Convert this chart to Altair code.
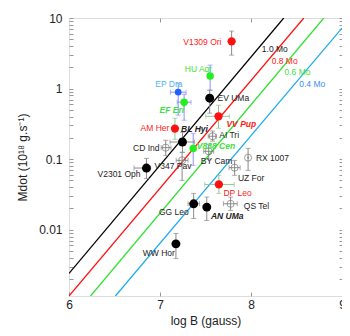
import altair as alt
import pandas as pd

# ---- star data (log B in gauss, Mdot in 1e18 g/s) ----
names = ["V1309 Ori", "HU Aqr", "EP Dra", "EF Eri", "EV UMa", "VV Pup", "BL Hyi",
         "AM Her", "CD Ind", "V838 Cen", "V347 Pav", "V2301 Oph", "AI Tri", "BY Cam",
         "RX 1007", "UZ For", "DP Leo", "QS Tel", "GG Leo", "AN UMa", "WW Hor"]
kinds = ["red", "green", "blue", "green", "black", "red", "black",
         "red", "open", "green", "open", "black", "open", "open",
         "opendot", "open", "red", "open", "black", "black", "black"]
logB = [7.787, 7.551, 7.20, 7.265, 7.546, 7.643, 7.247,
        7.164, 7.063, 7.365, 7.243, 6.851, 7.578, 7.535,
        7.968, 7.82, 7.647, 7.776, 7.37, 7.514, 7.175]
mdot = [4.67, 1.51, 0.889, 0.641, 0.731, 0.405, 0.175,
        0.271, 0.1455, 0.141, 0.0962, 0.0748, 0.211, 0.129,
        0.105, 0.0757, 0.0438, 0.0233, 0.0233, 0.0209, 0.0063]
logB_lo = [None, None, 7.114, 7.189, None, 7.503, 7.11,
           None, 7.013, None, 7.178, 6.714, 7.53, 7.48,
           None, 7.759, 7.492, 7.697, 7.308, None, None]
logB_hi = [None, None, 7.286, 7.341, None, 7.762, 7.38,
           None, 7.121, None, 7.308, 6.897, 7.62, 7.59,
           None, 7.881, 7.816, 7.849, 7.435, None, None]
mdot_lo = [2.98, 0.95, 0.42, 0.356, 0.448, 0.274, 0.125,
           0.191, 0.113, 0.0817, 0.05, 0.0533, 0.18, 0.10,
           0.0693, 0.059, 0.0327, 0.01875, 0.0144, 0.0135, 0.0039]
mdot_hi = [6.53, 2.15, 1.19, 0.832, 0.948, 0.58, 0.240,
           0.38, 0.185, 0.232, 0.125, 0.1025, 0.25, 0.16,
           0.142, 0.096, 0.0589, 0.029, 0.0327, 0.029, 0.00883]
err_group = ["gray", "blue", "blue", "blue", "gray", "green", "gray",
             "green", "gray", "blue", "gray", "gray", "gray", "gray",
             "gray", "gray", "green", "gray", "gray", "gray", "gray"]

# ---- star labels ----
lab_text = ["V1309 Ori", "HU Aqr", "EP Dra", "EF Eri", "EV UMa", "AM Her", "BL Hyi",
            "VV Pup", "AI Tri", "V838 Cen", "CD Ind", "V347 Pav", "V2301 Oph", "BY Cam",
            "RX 1007", "UZ For", "DP Leo", "QS Tel", "GG Leo", "AN UMa", "WW Hor",
            "1.0 Mo", "0.8 Mo", "0.6 Mo", "0.4 Mo"]
lab_x = [7.676, 7.272, 6.948, 6.995, 7.632, 7.103, 7.232,
         7.73, 7.651, 7.405, 6.995, 6.94, 6.786, 7.449,
         8.054, 7.856, 7.697, 7.921, 7.316, 7.56, 7.164,
         8.119, 8.227, 8.368, 8.53]
lab_y = [4.60, 1.89, 1.155, 0.493, 0.731, 0.274, 0.269,
         0.319, 0.218, 0.1535, 0.1455, 0.0798, 0.0608, 0.0948,
         0.1038, 0.054, 0.033, 0.0216, 0.01774, 0.01556, 0.0047,
         3.63, 2.45, 1.71, 1.155]
lab_align = ["right", "left", "left", "left", "left", "right", "left",
             "left", "left", "left", "right", "left", "right", "left",
             "left", "left", "left", "left", "right", "left", "right",
             "left", "left", "left", "left"]
lab_group = ["red", "green", "sky", "green", "black", "red", "black",
             "red", "black", "green", "black", "black", "black", "black",
             "black", "black", "red", "black", "black", "black", "black",
             "black", "red", "green", "blue"]
lab_emph = [False, False, False, True, False, False, True,
            True, False, True, False, False, False, False,
            False, False, False, False, False, True, False,
            False, False, False, False]

# ---- white-dwarf mass model lines (end points) ----
mass = ["1.0", "1.0", "0.8", "0.8", "0.6", "0.6", "0.4", "0.4"]
line_x = [6.0, 8.36, 6.0, 8.58, 6.237, 8.80, 6.51, 9.0]
line_y = [0.0024, 10.0, 0.00115, 10.0, 0.00115, 10.0, 0.00115, 7.2]

y_ticks = [0.002, 0.003, 0.004, 0.005, 0.006, 0.007, 0.008, 0.009,
           0.01, 0.02, 0.03, 0.04, 0.05, 0.06, 0.07, 0.08, 0.09,
           0.1, 0.2, 0.3, 0.4, 0.5, 0.6, 0.7, 0.8, 0.9,
           1, 2, 3, 4, 5, 6, 7, 8, 9, 10]
x_ticks = [6, 7, 8, 9]

stars = pd.DataFrame(dict(name=names, kind=kinds, logB=logB, mdot=mdot,
                          xlo=logB_lo, xhi=logB_hi, ylo=mdot_lo, yhi=mdot_hi,
                          eg=err_group))
labels = pd.DataFrame(dict(text=lab_text, x=lab_x, y=lab_y, align=lab_align,
                           grp=lab_group, emph=lab_emph))
lines = pd.DataFrame(dict(mass=mass, x=line_x, y=line_y))

FONT = "Liberation Sans"
xs = alt.Scale(domain=[6, 9], nice=False, zero=False)
ys = alt.Scale(type="log", domain=[0.00115, 10], nice=False)

X_NO = dict(scale=xs, axis=None)
Y_NO = dict(scale=ys, axis=None)

y_label_expr = ("datum.value == 0.01 ? '0.01' : datum.value == 0.1 ? '0.1' : "
                "datum.value == 1 ? '1' : datum.value == 10 ? '10' : ''")

# base layer: model lines with main axes
line_layer = alt.Chart(lines).mark_line(strokeWidth=1.3, clip=True).encode(
    x=alt.X("x:Q", scale=xs, axis=alt.Axis(
        orient="bottom", values=x_ticks, title="log B (gauss)", offset=-4,
        tickSize=4, domain=False, grid=False, tickColor="#999",
        labelFont=FONT, labelFontSize=12, labelColor="#222", labelPadding=3,
        labelFlush=False, titleFont=FONT, titleFontSize=12, titleFontWeight="normal",
        titleColor="#222", titlePadding=5)),
    y=alt.Y("y:Q", scale=ys, axis=alt.Axis(
        orient="left", values=y_ticks, labelExpr=y_label_expr,
        title="Mdot (10¹⁸ g.s⁻¹)", offset=-4, tickSize=4, domain=False, grid=False,
        tickColor="#999", labelFont=FONT, labelFontSize=12, labelColor="#222",
        labelPadding=7, labelFlush=False, labelOverlap=False,
        titleFont=FONT, titleFontSize=12, titleFontWeight="normal",
        titleColor="#222", titlePadding=9)),
    color=alt.Color("mass:N", scale=alt.Scale(
        domain=["1.0", "0.8", "0.6", "0.4"],
        range=["#000000", "#ff1010", "#33e033", "#1eaaf0"]), legend=None),
    detail="mass:N",
)

# mirror axes (top / right) with ticks only
mirror = alt.Chart(lines).mark_point(opacity=0).encode(
    x=alt.X("x:Q", scale=xs, axis=alt.Axis(
        orient="top", values=[7, 8], labels=False, title=None, offset=-4,
        tickSize=4, domain=False, grid=False, tickColor="#999")),
    y=alt.Y("y:Q", scale=ys, axis=alt.Axis(
        orient="right", values=y_ticks, labels=False, title=None, offset=-3,
        tickSize=3, domain=False, grid=False, tickColor="#999")),
)

err_color = alt.Color("eg:N", scale=alt.Scale(
    domain=["gray", "blue", "green"], range=["#8a8a8a", "#8f8ff5", "#8fc88f"]),
    legend=None)


def errs():
    vbar = alt.Chart(stars).mark_rule(strokeWidth=1).encode(
        x=alt.X("logB:Q", **X_NO), y=alt.Y("ylo:Q", **Y_NO), y2="yhi:Q", color=err_color)
    vcap_lo = alt.Chart(stars).mark_tick(size=5, thickness=1, orient="horizontal").encode(
        x=alt.X("logB:Q", **X_NO), y=alt.Y("ylo:Q", **Y_NO), color=err_color)
    vcap_hi = alt.Chart(stars).mark_tick(size=5, thickness=1, orient="horizontal").encode(
        x=alt.X("logB:Q", **X_NO), y=alt.Y("yhi:Q", **Y_NO), color=err_color)
    hstars = alt.Chart(stars).transform_filter("isValid(datum.xlo)")
    hbar = hstars.mark_rule(strokeWidth=1).encode(
        x=alt.X("xlo:Q", **X_NO), x2="xhi:Q", y=alt.Y("mdot:Q", **Y_NO), color=err_color)
    hcap_lo = hstars.mark_tick(size=5, thickness=1, orient="vertical").encode(
        x=alt.X("xlo:Q", **X_NO), y=alt.Y("mdot:Q", **Y_NO), color=err_color)
    hcap_hi = hstars.mark_tick(size=5, thickness=1, orient="vertical").encode(
        x=alt.X("xhi:Q", **X_NO), y=alt.Y("mdot:Q", **Y_NO), color=err_color)
    return alt.layer(vbar, vcap_lo, vcap_hi, hbar, hcap_lo, hcap_hi)


filled = alt.Chart(stars).transform_filter(
    "datum.kind != 'open' && datum.kind != 'opendot'").mark_point(
    filled=True, opacity=1).encode(
    x=alt.X("logB:Q", **X_NO), y=alt.Y("mdot:Q", **Y_NO),
    color=alt.Color("kind:N", scale=alt.Scale(
        domain=["black", "red", "green", "blue"],
        range=["#000000", "#ff1010", "#22ee22", "#1f5fff"]), legend=None),
    size=alt.Size("kind:N", scale=alt.Scale(
        domain=["black", "red", "green", "blue"], range=[80, 44, 24, 10]), legend=None),
)
opens = alt.Chart(stars).transform_filter(
    "datum.kind == 'open' || datum.kind == 'opendot'").mark_point(
    filled=False, size=50, strokeWidth=1, color="#777").encode(
    x=alt.X("logB:Q", **X_NO), y=alt.Y("mdot:Q", **Y_NO))
dots = alt.Chart(stars).transform_filter("datum.kind == 'opendot'").mark_point(
    filled=True, size=5, color="#777").encode(
    x=alt.X("logB:Q", **X_NO), y=alt.Y("mdot:Q", **Y_NO))

lab_color = alt.Color("grp:N", scale=alt.Scale(
    domain=["black", "red", "green", "sky", "blue"],
    range=["#222222", "#ff2020", "#3ee03e", "#4ab8ee", "#3a8ff0"]), legend=None)


def text_layer(align, emph):
    flt = f"datum.align == '{align}' && datum.emph == {str(emph).lower()}"
    kw = dict(font=FONT, fontSize=8.5, align=align, baseline="middle")
    if emph:
        kw.update(fontWeight="bold", fontStyle="italic")
    return alt.Chart(labels).transform_filter(flt).mark_text(**kw).encode(
        x=alt.X("x:Q", **X_NO), y=alt.Y("y:Q", **Y_NO), text="text:N", color=lab_color)


texts = alt.layer(*[text_layer(a, e) for a in ["left", "right"] for e in [False, True]])

chart = alt.layer(
    line_layer, mirror, errs(), opens, dots, filled, texts
).resolve_axis(x="independent", y="independent").resolve_scale(
    color="independent", size="independent"
).properties(
    width=273, height=278,
    autosize=alt.AutoSizeParams(type="none"),
    padding={"left": 61, "top": 10, "right": 0, "bottom": 32},
).configure_view(stroke="#aaaaaa", strokeWidth=1).configure(background="white")

chart.save("out.html", embed_options={"renderer": "svg", "actions": False})
